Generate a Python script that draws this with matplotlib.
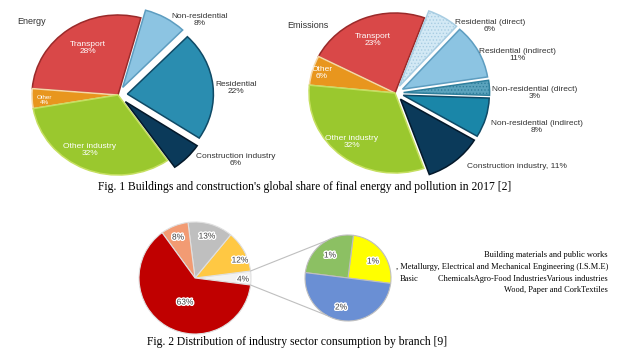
import numpy as np
import matplotlib.pyplot as plt
from matplotlib.patches import ConnectionPatch
import matplotlib.patheffects as pe

# Fig. 1 - energy
energy_labels = ['Transport', 'Other', 'Other industry', 'Construction industry',
                 'Residential', 'Non-residential']
energy_values = [28, 4, 32, 6, 22, 8]

# Fig. 1 - emissions
emis_labels = ['Transport', 'Other', 'Other industry', 'Construction industry',
               'Non-residential (indirect)', 'Non-residential (direct)',
               'Residential (indirect)', 'Residential (direct)']
emis_values = [23, 6, 32, 11, 8, 3, 11, 6]

# Fig. 2 - industry branches
branch_values = [4, 12, 13, 8, 63]
sub_values = [1, 1, 2]

W, H = 619, 354
fig = plt.figure(figsize=(W / 100, H / 100), dpi=100)
fig.patch.set_facecolor('white')
plt.rcParams['hatch.linewidth'] = 0.6

SANS = ['Liberation Sans Narrow', 'Liberation Sans', 'DejaVu Sans']
SERIF = ['Liberation Serif', 'DejaVu Serif']
LIM = 1.4


def fx(x, y):
    return x / W, 1 - y / H


def pie_axes(cx, cy, rx, ry):
    ax = fig.add_axes([(cx - LIM * rx) / W, 1 - (cy + LIM * ry) / H,
                       2 * LIM * rx / W, 2 * LIM * ry / H])
    return ax


def fix_axes(ax):
    # pie() resets limits and aspect, so set them afterwards
    ax.set_aspect('auto')
    ax.set_xlim(-LIM, LIM)
    ax.set_ylim(-LIM, LIM)
    ax.axis('off')


def label(x, y, s, size=6, color='#333333', ha='center', family=SANS, **kw):
    fig.text(*fx(x, y), s, ha=ha, va='center', fontsize=size, color=color,
             family=family, linespacing=1.05, **kw)


# ---- Energy pie
ax1 = pie_axes(118, 95, 86, 80)
e_colors = ['#d94848', '#e8961e', '#9ac82e', '#0b3a5a', '#2a8db0', '#8cc4e2']
e_edges = ['#9a2a2a', '#f6d8a8', '#c5df60', '#03182a', '#0f4a66', '#5d9dc0']
wedges, _ = ax1.pie(energy_values, colors=e_colors, startangle=74.6,
                    explode=[0, 0, 0, 0.12, 0.11, 0.11], radius=1,
                    wedgeprops=dict(linewidth=1.1))
for w, ec in zip(wedges, e_edges):
    w.set_edgecolor(ec)
fix_axes(ax1)

label(17, 22, 'Energy', size=6.5, ha='left')
label(88, 48, 'Transport\n28%', color='white', size=6)
label(44, 100, 'Other\n4%', color='white', size=4.5)
label(90, 150, 'Other industry\n32%', color='white', size=6)
label(200, 20, 'Non-residential\n8%')
label(236, 88, 'Residential\n22%')
label(236, 160, 'Construction industry\n6%')

# ---- Emissions pie
ax2 = pie_axes(395, 93, 86, 80)
m_colors = ['#d94848', '#e8961e', '#9ac82e', '#0b3a5a', '#1a86a8', '#5ba3bd',
            '#8cc4e2', '#d3e9f5']
m_edges = ['#9a2a2a', '#f6d8a8', '#c5df60', '#03182a', '#0f4a66', '#2f7f9c',
           '#5d9dc0', '#a8cde2']
wedges, _ = ax2.pie(emis_values, colors=m_colors, startangle=70,
                    explode=[0, 0, 0, 0.1, 0.1, 0.1, 0.1, 0.1], radius=1,
                    wedgeprops=dict(linewidth=1.1))
for lab, w, ec in zip(emis_labels, wedges, m_edges):
    w.set_edgecolor(ec)
    if lab.endswith('(direct)'):
        w.set_hatch('.....')
fix_axes(ax2)

label(287, 25, 'Emissions', size=6.5, ha='left')
label(373, 40, 'Transport\n23%', color='white', size=6)
label(322, 73, 'Other\n6%', color='white', size=6)
label(352, 142, 'Other industry\n32%', color='white', size=6)
label(490, 26, 'Residential (direct)\n6%')
label(517, 55, 'Residential (indirect)\n11%')
label(535, 93, 'Non-residential (direct)\n3%')
label(537, 127, 'Non-residential (indirect)\n8%')
label(517, 166, 'Construction industry, 11%')

label(305, 187, "Fig. 1 Buildings and construction's global share of final energy "
      "and pollution in 2017 [2]", size=8.4, color='black', family=SERIF)

# ---- Fig. 2 pies
halo = [pe.withStroke(linewidth=2, foreground='white')]
ax3 = pie_axes(195, 278, 56, 56)
b_colors = ['#f2f2f2', '#ffc843', '#bfbfbf', '#f29b73', '#c00000']
ax3.pie(branch_values, colors=b_colors, startangle=-7.2, radius=1,
        wedgeprops=dict(linewidth=0.8, edgecolor='#e0e0e0'))
fix_axes(ax3)
for (x, y), s in zip([(243, 280), (240, 261), (207, 237), (178, 238), (185, 303)],
                     ['4%', '12%', '13%', '8%', '63%']):
    fig.text(*fx(x, y), s, ha='center', va='center', fontsize=6,
             color='#404040', family=SANS, path_effects=halo)

ax4 = pie_axes(348, 278, 43, 43)
s_colors = ['#ffff00', '#8cc063', '#6a8fd4']
ax4.pie(sub_values, colors=s_colors, startangle=-7.2, radius=1,
        wedgeprops=dict(linewidth=0.8, edgecolor='#bfbfbf'))
fix_axes(ax4)
for (x, y), s in zip([(373, 262), (330, 256), (341, 308)], ['1%', '1%', '2%']):
    fig.text(*fx(x, y), s, ha='center', va='center', fontsize=6,
             color='#404040', family=SANS, path_effects=halo)

a = np.deg2rad(7.2)
b = np.deg2rad(120)
for sgn in (1, -1):
    con = ConnectionPatch(xyA=(np.cos(a), sgn * np.sin(a)), coordsA='data', axesA=ax3,
                          xyB=(np.cos(b), sgn * np.sin(b)), coordsB='data', axesB=ax4,
                          color='#bfbfbf', linewidth=0.8)
    fig.add_artist(con)

label(608, 255, 'Building materials and public works', size=6, color='black',
      ha='right', family=SERIF)
label(608, 267, ', Metallurgy, Electrical and Mechanical Engineering (I.S.M.E)',
      size=6, color='black', ha='right', family=SERIF)
label(400, 279, 'Basic', size=6, color='black', ha='left', family=SERIF)
label(608, 279, 'ChemicalsAgro-Food IndustriesVarious industries', size=6,
      color='black', ha='right', family=SERIF)
label(608, 290, 'Wood, Paper and CorkTextiles', size=6, color='black',
      ha='right', family=SERIF)

label(297, 342, 'Fig. 2 Distribution of industry sector consumption by branch [9]',
      size=8.4, color='black', family=SERIF)

fig.savefig('out.png', dpi=100, facecolor='white')
